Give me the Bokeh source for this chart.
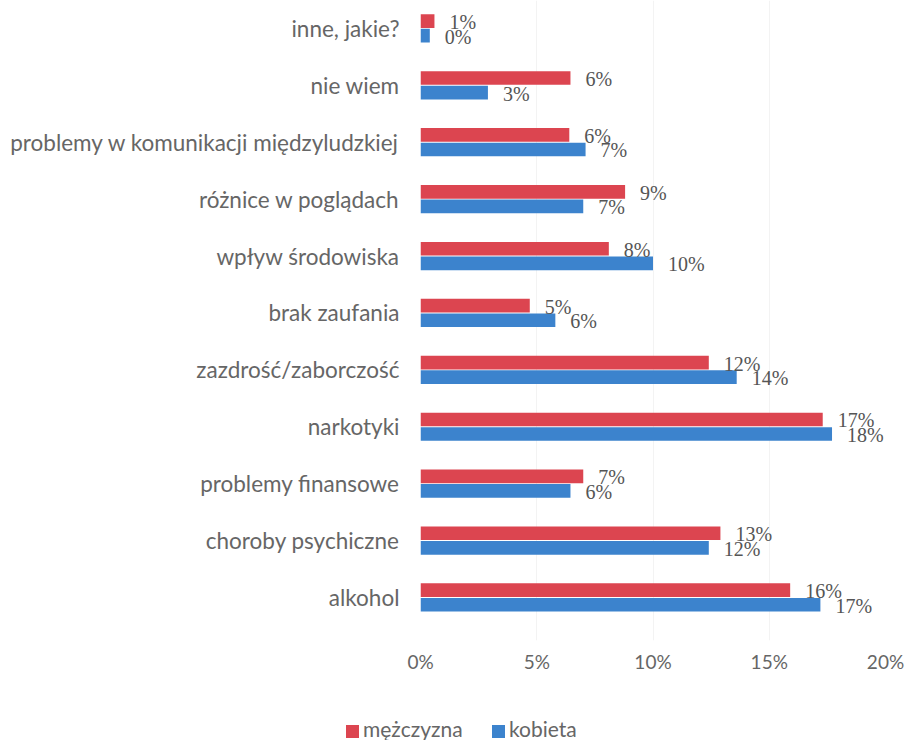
from bokeh.plotting import figure
from bokeh.layouts import column
from bokeh.models import ColumnDataSource, FixedTicker, PrintfTickFormatter, Range1d, Div
from bokeh.core.properties import value
from bokeh.embed import file_html
from bokeh.resources import INLINE

categories = ["alkohol", "choroby psychiczne", "problemy finansowe", "narkotyki",
              "zazdrość/zaborczość", "brak zaufania", "wpływ środowiska",
              "różnice w poglądach", "problemy w komunikacji międzyludzkiej",
              "nie wiem", "inne, jakie?"]
men = [15.9, 12.9, 7.0, 17.3, 12.4, 4.7, 8.1, 8.8, 6.4, 6.45, 0.6]
women = [17.2, 12.4, 6.45, 17.7, 13.6, 5.8, 10.0, 7.0, 7.1, 2.9, 0.4]
series_names = ["mężczyzna", "kobieta"]
x_ticks = [0, 5, 10, 15, 20]

RED = "#DC4550"
BLUE = "#3C83CD"
off = 0.128
idx = list(range(len(categories)))

src_m = ColumnDataSource(dict(y=[i + off for i in idx], v=men,
                              lab=[f"{round(v):.0f}%" for v in men]))
src_w = ColumnDataSource(dict(y=[i - off for i in idx], v=women,
                              lab=[f"{round(v):.0f}%" for v in women]))

p = figure(width=905, height=712, output_backend="svg", toolbar_location=None,
           x_range=Range1d(0, 20), y_range=Range1d(-0.756, 10.49),
           min_border_left=420, min_border_right=20, min_border_top=0, min_border_bottom=72)
p.outline_line_color = None
p.background_fill_color = "white"

r_m = p.hbar(y="y", right="v", left=0, height=0.24, source=src_m, color=RED, line_color=None)
r_w = p.hbar(y="y", right="v", left=0, height=0.24, source=src_w, color=BLUE, line_color=None)

for s in (src_m, src_w):
    p.text(x="v", y="y", text="lab", source=s, x_offset=15, y_offset=1,
           text_baseline="middle", text_align="left",
           text_font=value("Liberation Serif"), text_font_size="20px", text_color="#555555")

# axes
p.xaxis.ticker = FixedTicker(ticks=x_ticks)
p.xaxis.formatter = PrintfTickFormatter(format="%d%%")
p.yaxis.ticker = FixedTicker(ticks=idx)
p.yaxis.major_label_overrides = {i: c for i, c in zip(idx, categories)}
for ax in (p.xaxis, p.yaxis):
    ax.axis_line_color = None
    ax.major_tick_line_color = None
    ax.minor_tick_line_color = None
    ax.major_label_text_font = "Lato"
    ax.major_label_text_color = "#666666"
p.xaxis.major_label_text_font_size = "19px"
p.yaxis.major_label_text_font_size = "22.5px"
p.xaxis.major_label_standoff = 3
p.yaxis.major_label_standoff = 15
p.ygrid.grid_line_color = None
p.xgrid.grid_line_color = "#f3f3f3"

# legend strip below the chart
sq = "position:absolute;top:13px;width:13px;height:13px;"
lab = "position:absolute;top:4px;font-family:Lato;font-size:21px;line-height:25px;color:#666666;white-space:nowrap;"
legend_html = (
    f'<div style="position:relative;width:905px;height:28px;">'
    f'<span style="{sq}left:346px;background:{RED};"></span>'
    f'<span style="{lab}left:363px;">{series_names[0]}</span>'
    f'<span style="{sq}left:492px;background:{BLUE};"></span>'
    f'<span style="{lab}left:509px;">{series_names[1]}</span>'
    f'</div>'
)
legend_div = Div(text=legend_html, width=905, height=28, margin=0)

layout = column(p, legend_div, spacing=0)
open("out.html", "w").write(file_html(layout, INLINE))
